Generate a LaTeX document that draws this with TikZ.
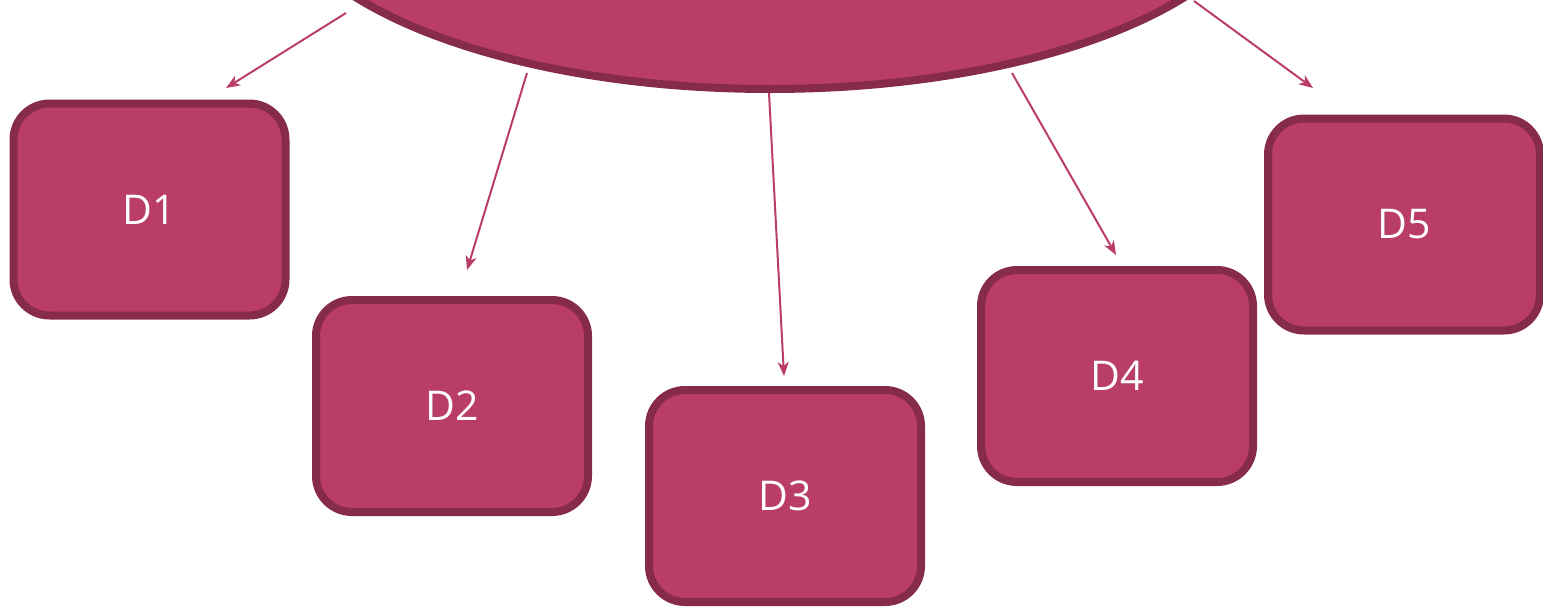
\documentclass[tikz,border=0pt]{standalone}
\usepackage{fontspec}
\setmainfont{Open Sans}
\usetikzlibrary{shapes.geometric,arrows.meta}
\definecolor{dfill}{HTML}{B93D66}
\definecolor{dline}{HTML}{872B4A}
\tikzset{
dbox/.style={rectangle, rounded corners=18pt, draw=dline, fill=dfill, line width=4pt, minimum width=136pt, minimum height=106pt, text=white, font=\fontsize{20.5}{24}\selectfont},
darr/.style={draw=dfill, line width=1pt, -{Stealth[length=7pt,width=5.5pt,inset=2pt]}}
}
\begin{document}
\begin{tikzpicture}[x=.5pt,y=-.5pt]
\useasboundingbox (0,0) rectangle (1543,606);
\node[ellipse, draw=dline, fill=dfill, line width=4pt, minimum width=496pt, minimum height=204pt, inner sep=0pt] (root) at (770,-115){};
\node[dbox] (d1) at (149.5,209.5){D1};
\node[dbox] (d2) at (452,406){D2};
\node[dbox] (d3) at (785,496){D3};
\node[dbox] (d4) at (1117,376){D4};
\node[dbox] (d5) at (1404,224.5){D5};
\coordinate (s1) at (346,13);
\coordinate (t1) at (226,88);
\coordinate (s2) at (527,73);
\coordinate (t2) at (467,270);
\coordinate (s3) at (769,93);
\coordinate (t3) at (784,376);
\coordinate (s4) at (1012,73);
\coordinate (t4) at (1116,255);
\coordinate (s5) at (1194,1);
\coordinate (t5) at (1313,88);
\draw[darr](s1) -- (t1);
\draw[darr](s2) -- (t2);
\draw[darr](s3) -- (t3);
\draw[darr](s4) -- (t4);
\draw[darr](s5) -- (t5);
\end{tikzpicture}
\end{document}
